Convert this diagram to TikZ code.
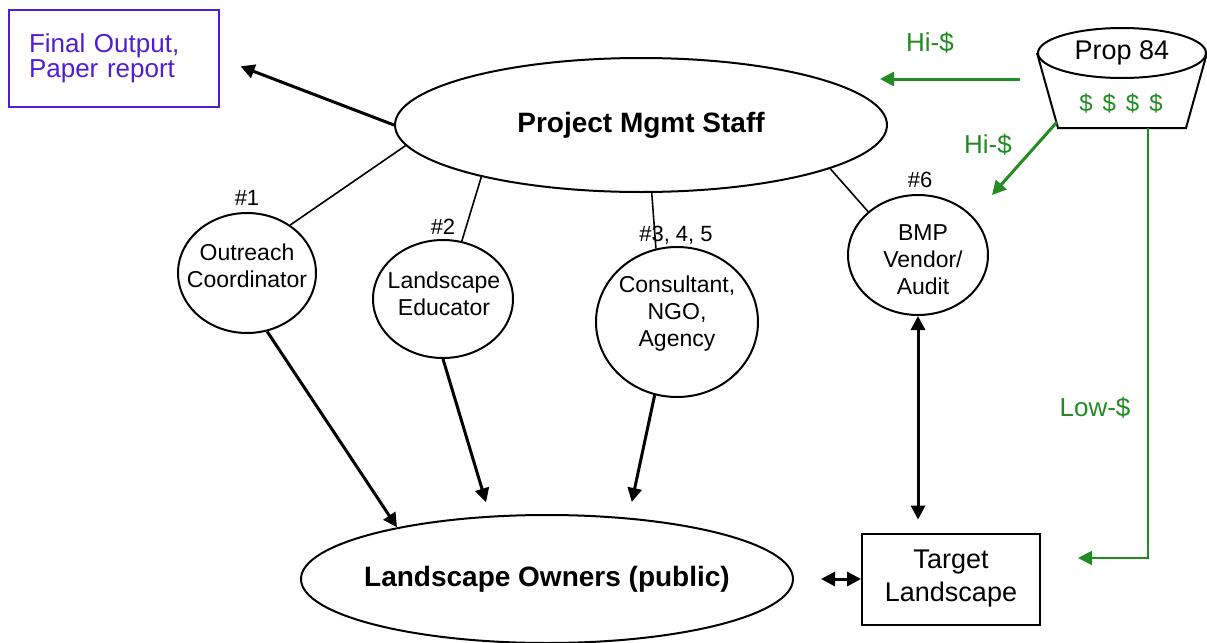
\documentclass[tikz,border=0pt]{standalone}
\usepackage{fontspec}
\setmainfont{Liberation Sans}
\usepackage{tikz}
\usetikzlibrary{shapes.geometric, arrows.meta}

\definecolor{cash}{RGB}{34,139,34}
\definecolor{report}{RGB}{80,30,210}

\begin{document}
\begin{tikzpicture}[x=0.5pt, y=-0.5pt, line width=1pt, >={Triangle[length=7pt, width=7pt]},
	main/.style = {draw, ellipse, inner sep=0pt},
	txt/.style = {align=center, inner sep=0pt, font=\fontsize{11.5}{13.5}\selectfont},
	big/.style = {inner sep=0pt, font=\fontsize{14}{17}\selectfont\bfseries},
	num/.style = {inner sep=0pt, font=\fontsize{11}{13}\selectfont},
	money/.style = {inner sep=0pt, text=cash, font=\fontsize{13}{15}\selectfont},
	link/.style = {line width=0.8pt},
	flow/.style = {line width=1.5pt, ->},
	fund/.style = {draw=cash, line width=1.5pt, ->}]
		\useasboundingbox (0,0) rectangle (1207,643);

		\node[draw=report, text=report, align=left, text width=85pt, inner xsep=10pt, minimum height=48.5pt, font=\fontsize{13}{12.5}\selectfont] (fin) at (114,58.5) {Final Output,\\Paper report};
		\node[main, big, minimum width=246pt, minimum height=67pt] (staff) at (641,125) {Project Mgmt Staff};
		\node[main, minimum width=84pt, minimum height=25pt, font=\fontsize{13.5}{16}\selectfont] (prop) at (1122,53) {Prop 84};
		\coordinate (bl) at (1058,128);
		\coordinate (br) at (1186,128);
		\draw (prop.west) -- (bl) -- (br) -- (prop.east);
		\node[money, font=\fontsize{12}{14}\selectfont] (dollars) at (1121,103) {\$\hspace{5pt}\$\hspace{5pt}\$\hspace{5pt}\$};

		\node[main, minimum width=69pt, minimum height=60pt] (out) at (247,273) {};
		\node[txt] (out-t) at (247,266) {Outreach\\Coordinator};
		\node[main, minimum width=70pt, minimum height=59pt] (edu) at (443,299) {};
		\node[txt] (edu-t) at (444,294) {Landscape\\Educator};
		\node[main, minimum width=81pt, minimum height=75pt] (cons) at (677,322) {};
		\node[txt] (cons-t) at (677,314) {Consultant,\\NGO,\\Agency};
		\node[main, minimum width=70pt, minimum height=60pt] (bmp) at (918,255) {};
		\node[txt] (bmp-t) at (923,260) {BMP\\Vendor/\\Audit};

		\node[num] (n1) at (247,198) {\#1};
		\node[num] (n2) at (443,227) {\#2};
		\node[num] (n3) at (676,235) {\#3, 4, 5};
		\node[num] (n6) at (920,180) {\#6};

		\node[main, minimum width=246pt, minimum height=64pt] (own) at (547,579) {};
		\node[big] (own-t) at (547,579) {Landscape Owners (public)};
		\node[draw, align=center, minimum width=89pt, minimum height=45.5pt, font=\fontsize{13.5}{16.5}\selectfont] (tgt) at (951,579) {Target\\Landscape};

		\draw[flow, shorten >=11pt] (staff.west) -- (fin.east);
		\draw[link] (staff.185) -- (out.48);
		\draw[link] (staff.198) -- (edu.72);
		\draw[link] (staff.-81) -- (cons.106);
		\draw[link] (staff.-13) -- (bmp.139);

		\draw[flow] (out.-71) -- (own.161);
		\draw[flow, shorten >=7pt] (edu.south) -- (own.132);
		\draw[flow, shorten >=8pt] (cons.-107) -- (own.37);
		\draw[flow, <->, shorten >=6.5pt] (bmp.south) -- (bmp.south |- tgt.north);
		\draw[flow, <->, shorten <=13.5pt] (own.east) -- (tgt.west);

		\coordinate (hiA) at (1020,79);
		\coordinate (hiB) at (880,79);
		\coordinate (hiC) at (1057,122);
		\coordinate (hiD) at (992,195);
		\coordinate (lowA) at (1148,128);
		\coordinate (lowB) at (1078,558);
		\draw[fund] (hiA) -- (hiB);
		\draw[fund] (hiC) -- (hiD);
		\draw[fund, line width=1pt] (lowA) |- (lowB);
		\node[money] (hi1) at (930,43) {Hi-\$};
		\node[money] (hi2) at (988,145) {Hi-\$};
		\node[money] (low) at (1095,408) {Low-\$};
	\end{tikzpicture}
\end{document}
